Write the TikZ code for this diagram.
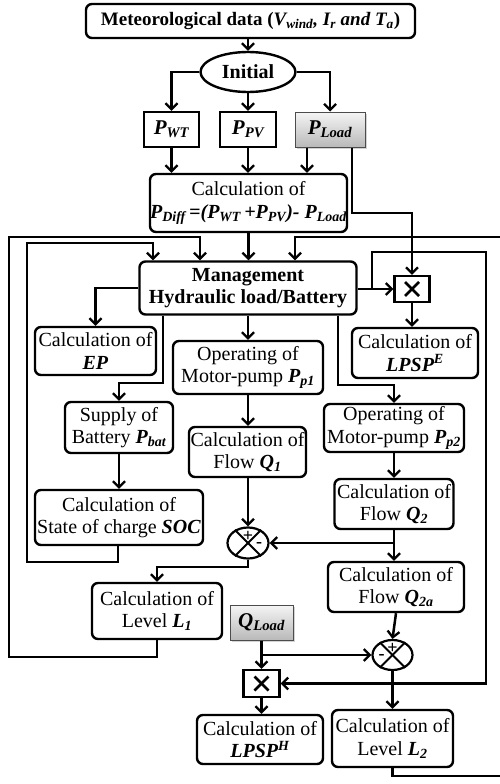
\documentclass[tikz,border=0pt]{standalone}
\usepackage{fontspec}
\setmainfont{Liberation Serif}
\usetikzlibrary{arrows.meta,shapes.geometric,shadows}
\newcommand\cf{\fontsize{20}{22.5}\selectfont}
\newcommand\bi[1]{\textbf{\textit{#1}}}
\tikzset{
  box/.style={draw, rounded corners=6pt, line width=2.4pt, align=center, inner sep=0pt, font=\cf},
  sbox/.style={draw, line width=2.4pt, align=center, inner sep=0pt, font=\cf},
  gbox/.style={draw=gray!60!black, line width=1pt, align=center, inner sep=0pt, font=\cf,
     top color=gray!8, bottom color=gray!55, drop shadow={shadow xshift=2pt, shadow yshift=-2pt, opacity=0.35}},
  xbox/.style={draw, line width=2.2pt, inner sep=0pt, minimum width=35pt, minimum height=26pt},
  sumnode/.style={draw, ellipse, line width=2.2pt, inner sep=0pt, minimum width=41pt, minimum height=31pt},
  ln/.style={line width=2.5pt},
  arr/.style={line width=2.5pt, -{Straight Barb[length=6pt,width=12pt,line width=2.3pt]}},
  xmark/.style={line width=2.6pt},
  sgn/.style={font=\bfseries\fontsize{18}{18}\selectfont, inner sep=0pt}
}
\begin{document}
\begin{tikzpicture}[x=1pt,y=-1pt]
\useasboundingbox (0,0) rectangle (500,784);
% nodes
\node[box, minimum width=329pt, minimum height=34pt, font=\fontsize{19}{21}\selectfont\bfseries] (meteo) at (250.5,21)
  {Meteorological data (\textit{V\textsubscript{wind}, I\textsubscript{r} and T\textsubscript{a}})};
\node[draw, ellipse, line width=2.4pt, minimum width=95pt, minimum height=40pt, inner sep=0pt, font=\cf\bfseries] (init) at (248,72) {Initial};
\node[sbox, minimum width=55pt, minimum height=35pt, font=\fontsize{21}{21}\selectfont] (pwt) at (171.5,129.5) {\bi{P\textsubscript{WT}}};
\node[sbox, minimum width=56pt, minimum height=35pt, font=\fontsize{21}{21}\selectfont] (ppv) at (248,129.5) {\bi{P\textsubscript{PV}}};
\node[gbox, minimum width=70pt, minimum height=35pt, font=\fontsize{21}{21}\selectfont] (pload) at (330,129.5) {\bi{P\textsubscript{Load}}};
\node[box, minimum width=197pt, minimum height=58pt] (pdiff) at (248.5,203)
  {Calculation of\\ \bi{P\textsubscript{Diff}\,=(P\textsubscript{WT}\,+P\textsubscript{PV})- P\textsubscript{Load}}};
\node[box, minimum width=217pt, minimum height=53pt, font=\cf\bfseries] (mgmt) at (248,288) {Management\\Hydraulic load/Battery};
\node[xbox] (x1) at (412,289) {};
\node[box, minimum width=121pt, minimum height=48pt] (ep) at (95.5,351) {Calculation of\\ \bi{EP}};
\node[box, minimum width=150pt, minimum height=53pt] (pp1) at (248,367.5) {Operating of\\Motor-pump \bi{P\textsubscript{p1}}};
\node[box, minimum width=126pt, minimum height=50pt] (lpe) at (415,353) {Calculation of\\ \bi{LPSP\textsuperscript{E}}};
\node[box, minimum width=108pt, minimum height=51pt] (bat) at (119,427.5) {Supply of\\Battery \bi{P\textsubscript{bat}}};
\node[box, minimum width=117pt, minimum height=50pt] (q1) at (247.5,452) {Calculation of\\Flow \bi{Q\textsubscript{1}}};
\node[box, minimum width=140pt, minimum height=48pt] (pp2) at (394,428) {Operating of\\Motor-pump \bi{P\textsubscript{p2}}};
\node[box, minimum width=168pt, minimum height=55pt] (soc) at (119,517.5) {Calculation of\\State of charge \bi{SOC}};
\node[box, minimum width=119pt, minimum height=50pt] (q2) at (394,504) {Calculation of\\Flow \bi{Q\textsubscript{2}}};
\node[sumnode] (s1) at (248,543) {};
\node[box, minimum width=136pt, minimum height=50pt] (q2a) at (396,587) {Calculation of\\Flow \bi{Q\textsubscript{2a}}};
\node[box, minimum width=130pt, minimum height=56pt] (l1) at (157,611) {Calculation of\\Level \bi{L\textsubscript{1}}};
\node[gbox, minimum width=63pt, minimum height=35pt, font=\fontsize{21}{21}\selectfont] (qload) at (261.5,622.5) {\bi{Q\textsubscript{Load}}};
\node[sumnode, minimum width=40pt, minimum height=30pt] (s2) at (392.5,655) {};
\node[xbox, minimum width=36pt, minimum height=27pt] (x2) at (261.5,683.5) {};
\node[box, minimum width=126pt, minimum height=49pt] (lph) at (260,739.5) {Calculation of\\ \bi{LPSP\textsuperscript{H}}};
\node[box, minimum width=121pt, minimum height=57pt] (l2) at (392.5,738.5) {Calculation of\\Level \bi{L\textsubscript{2}}};
% marks inside x boxes and sums
\foreach \n in {x1,x2}{
  \draw[xmark] ([shift={(-7pt,-7pt)}]\n.center) -- ([shift={(7pt,7pt)}]\n.center);
  \draw[xmark] ([shift={(-7pt,7pt)}]\n.center) -- ([shift={(7pt,-7pt)}]\n.center);
}
\foreach \n in {s1,s2}{
  \draw[line width=2pt] (\n.45) -- (\n.225);
  \draw[line width=2pt] (\n.135) -- (\n.315);
}
\node[sgn] at ([yshift=7pt]s1.center) {+};
\node[sgn] at ([xshift=11pt,yshift=-2pt]s1.center) {-};
\node[sgn] at ([yshift=7pt]s2.center) {+};
\node[sgn] at ([xshift=-11pt,yshift=-2pt]s2.center) {-};
% connectors
\coordinate (rb) at (500,776);
\coordinate (rt) at (500,237);
\draw[arr] (meteo.south -| init.north) -- (init.north);
\draw[arr] (init.west) -| (pwt.north);
\draw[arr] (init.south) -- (ppv.north);
\draw[arr] (init.east) -| (pload.north);
\draw[arr] (pwt.south) -- (pwt.south |- pdiff.north);
\draw[arr] (ppv.south) -- (ppv.south |- pdiff.north);
\draw[arr] ([xshift=-23pt]pload.south) -- ([xshift=-23pt]pload.south |- pdiff.north);
\draw[arr] ([xshift=22pt]pload.south) |- (412,213) -- (x1.north);
\draw[arr] (pdiff.south) -- (pdiff.south |- mgmt.north);
% left loops
\draw[arr] (l1.south) |- (9,657) |- (200,237) -- ([xshift=-48pt]mgmt.north);
\draw[arr] ([xshift=-1pt]soc.south) |- (27,562) |- (153,243) -- ([xshift=-95pt]mgmt.north);
% right outer loop
\draw[ln] (l2.south) |- (rb);
\draw[arr] (rt) -| ([xshift=47pt]mgmt.north);
% management outputs
\draw[arr] (mgmt.east |- x1.west) -- (x1.west);
\draw[arr] (372,289) |- (486,252) |- (x2.east);
\draw[arr] (x1.south) -- (x1.south |- lpe.north);
\draw[arr] (mgmt.west) -| (ep.north);
\draw[arr] ([xshift=-85pt]mgmt.south) |- (119,383) -- (bat.north);
\draw[arr] (mgmt.south) -- (pp1.north);
\draw[arr] ([xshift=90pt]mgmt.south) |- (394,385) -- (pp2.north);
\draw[arr] (bat.south) -- (bat.south |- soc.north);
\draw[arr] (pp1.south) -- (pp1.south |- q1.north);
\draw[arr] (pp2.south) -- (q2.north);
\draw[arr] (q1.south -| s1.north) -- (s1.north);
\draw[arr] (q2.south) |- (s1.east);
\draw[arr] (q2.south) -- (q2.south |- q2a.north);
\draw[arr] (s1.south) |- (157,567) -- (l1.north);
\draw[arr] (q2a.south) -- (s2.north);
\draw[arr] (qload.south) |- (s2.west);
\draw[arr] (qload.south) -- (x2.north);
\draw[arr] (s2.south) -- (s2.south |- l2.north);
\draw[arr] (x2.south) -- (x2.south |- lph.north);
\end{tikzpicture}
\end{document}
